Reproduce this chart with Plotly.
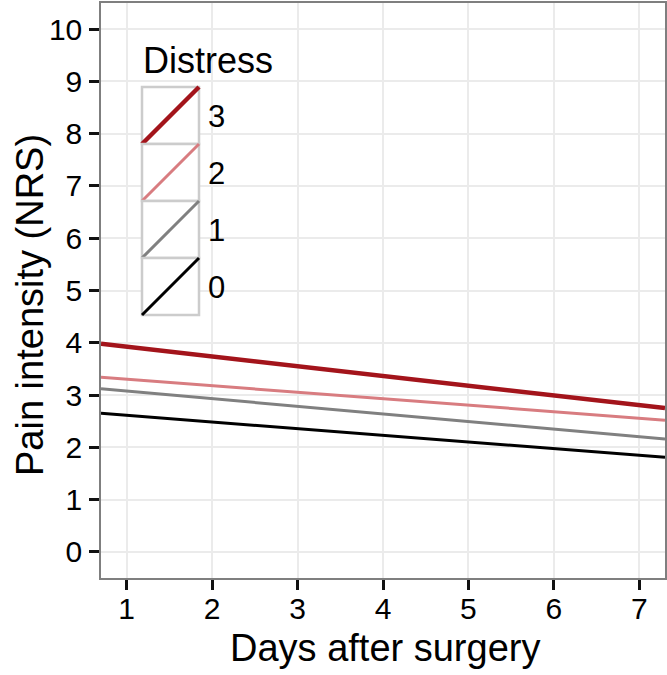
import plotly.graph_objects as go

# fitted lines, read at the left and right panel edges
days_edge = [0.7, 7.3]
distress_levels = ["3", "2", "1", "0"]
pain_left = [3.98, 3.34, 3.12, 2.65]
pain_right = [2.75, 2.52, 2.16, 1.81]
line_colors = ["#a3141b", "#d87c80", "#808080", "#000000"]
line_widths = [4.5, 3, 3, 3]

x_ticks = [1, 2, 3, 4, 5, 6, 7]
y_ticks = list(range(0, 11))

W, H = 667, 675
L, R, T, B = 101, 2, 3, 97
FONT = "Liberation Sans"

fig = go.Figure()
for lvl, y0, y1, c, w in zip(distress_levels, pain_left, pain_right, line_colors, line_widths):
    fig.add_trace(go.Scatter(x=days_edge, y=[y0, y1], mode="lines", name=lvl,
                             line=dict(color=c, width=w), showlegend=False))

# pixel -> paper helpers for the hand drawn legend and titles
pw, ph = W - L - R, H - T - B
def px(x):
    return (x - L) / pw
def py(y):
    return 1 - (y - T) / ph

shapes = []
annos = []
key_x0, key_x1 = 142, 199
key_top, key_h = 87, 57
for i, (lvl, c, w) in enumerate(zip(distress_levels, line_colors, line_widths)):
    t = key_top + i * key_h
    b = t + key_h
    shapes.append(dict(type="rect", xref="paper", yref="paper",
                       x0=px(key_x0), x1=px(key_x1), y0=py(b), y1=py(t),
                       line=dict(color="#cccccc", width=2.5), fillcolor="white"))
    shapes.append(dict(type="line", xref="paper", yref="paper",
                       x0=px(key_x0), x1=px(key_x1), y0=py(b), y1=py(t),
                       line=dict(color=c, width=w)))
    annos.append(dict(xref="paper", yref="paper", x=px(206), y=py((t + b) / 2 + 1),
                      text=lvl, showarrow=False, xanchor="left", yanchor="middle",
                      font=dict(family=FONT, size=31, color="black")))
annos.append(dict(xref="paper", yref="paper", x=px(141), y=py(60), text="Distress",
                  showarrow=False, xanchor="left", yanchor="middle",
                  font=dict(family=FONT, size=36, color="black")))
# axis titles
annos.append(dict(xref="paper", yref="paper", x=px(385), y=py(648), text="Days after surgery",
                  showarrow=False, xanchor="center", yanchor="middle",
                  font=dict(family=FONT, size=38, color="black")))
annos.append(dict(xref="paper", yref="paper", x=px(30), y=py(305), text="Pain intensity (NRS)",
                  showarrow=False, xanchor="center", yanchor="middle", textangle=-90,
                  font=dict(family=FONT, size=38, color="black")))

fig.update_layout(
    template="none",
    width=W, height=H,
    margin=dict(l=L, r=R, t=T, b=B, autoexpand=False),
    plot_bgcolor="white", paper_bgcolor="white",
    font=dict(family=FONT, size=31, color="black"),
    shapes=shapes, annotations=annos,
)
axis_style = dict(showgrid=True, gridcolor="#ebebeb", gridwidth=1.5, zeroline=False,
                  showline=True, linecolor="#7f7f7f", linewidth=1.5, mirror=True,
                  ticks="outside", ticklen=10, tickwidth=3, tickcolor="#111111",
                  tickfont=dict(family=FONT, size=30, color="black"), automargin=False)
fig.update_xaxes(range=[0.7, 7.3], tickvals=x_ticks, ticklabelstandoff=-7, **axis_style)
fig.update_yaxes(range=[-0.5, 10.5], tickvals=y_ticks, ticklabelstandoff=1, **axis_style)

fig.write_html("out.html", config={"displayModeBar": False},
               post_script="document.body.style.margin = '0';")
